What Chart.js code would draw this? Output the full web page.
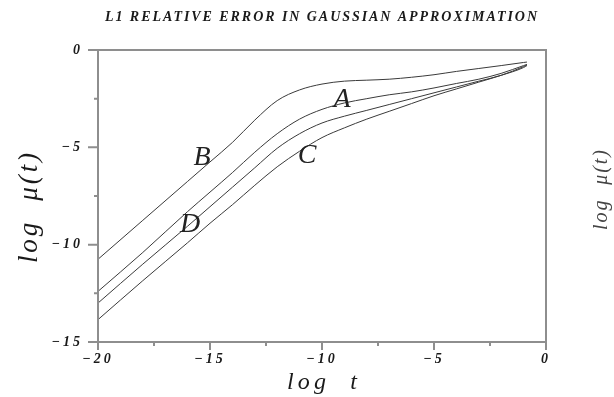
<!DOCTYPE html>
<html>
<head>
<meta charset="utf-8">
<script src="https://cdn.jsdelivr.net/npm/chart.js@4.4.1/dist/chart.umd.min.js"></script>
<style>
  html, body { margin: 0; padding: 0; background: #fff; }
</style>
</head>
<body>
<canvas id="errChart" width="614" height="397"></canvas>
<script>
// log t sample points and log mu(t) for each curve
const logT   = [-20, -18, -16, -15, -14, -13, -12, -11, -10, -9, -8, -7, -6, -5, -4, -3, -2, -1, -0.85];
const curveA = [-12.4, -10.4, -8.3, -7.3, -6.3, -5.25, -4.3, -3.55, -3.05, -2.72, -2.5, -2.3, -2.15, -1.95, -1.72, -1.5, -1.2, -0.8, -0.74];
const curveB = [-10.75, -8.75, -6.75, -5.75, -4.75, -3.6, -2.6, -2.05, -1.75, -1.6, -1.55, -1.5, -1.4, -1.27, -1.1, -0.95, -0.8, -0.64, -0.62];
const curveC = [-13.85, -11.85, -9.9, -8.9, -7.95, -6.95, -6.0, -5.2, -4.5, -4.0, -3.55, -3.15, -2.75, -2.35, -2.0, -1.65, -1.3, -0.9, -0.8];
const curveD = [-13.0, -11.0, -9.05, -8.05, -7.05, -6.05, -5.05, -4.3, -3.75, -3.4, -3.1, -2.8, -2.5, -2.2, -1.9, -1.6, -1.3, -0.85, -0.77];

// curve letters and where they sit (log t, log mu)
const curveNames = ['A', 'B', 'C', 'D'];
const labelT  = [-9.11, -15.36, -10.67, -15.89];
const labelMu = [-2.56, -5.53, -5.43, -8.96];

const titleText = 'L1 RELATIVE ERROR IN GAUSSIAN APPROXIMATION';
const xTitle = 'log  t';
const yTitle = 'log  μ(t)';

const serif = '"Liberation Serif", "DejaVu Serif", serif';

function toPoints(ys) {
  return logT.map((t, i) => ({ x: t, y: ys[i] }));
}

function curve(ys) {
  return {
    data: toPoints(ys),
    borderColor: '#3a3a3a',
    borderWidth: 1,
    pointRadius: 0,
    cubicInterpolationMode: 'monotone',
    fill: false
  };
}

// text spread out to a given width (old plotter lettering is wide)
function spacedText(ctx, text, cx, cy, width, font, angle) {
  ctx.save();
  ctx.font = font;
  ctx.letterSpacing = '0px';
  const w = ctx.measureText(text).width;
  const ls = Math.max(0, (width - w) / (text.length - 1));
  ctx.letterSpacing = ls + 'px';
  ctx.translate(cx, cy);
  ctx.rotate(angle || 0);
  ctx.textAlign = 'left';
  ctx.textBaseline = 'middle';
  ctx.fillText(text, -width / 2, 0);
  ctx.restore();
}

const plotFrame = {
  id: 'plotFrame',
  beforeDraw(chart) {
    chart.ctx.letterSpacing = '3px';
  },
  afterDraw(chart) {
    const { ctx, chartArea: a, scales: { x, y } } = chart;
    ctx.save();
    ctx.letterSpacing = '0px';

    // box round the plot
    ctx.strokeStyle = '#8e8e8e';
    ctx.lineWidth = 2;
    ctx.strokeRect(a.left, a.top, a.right - a.left, a.bottom - a.top);

    // major / minor ticks
    ctx.beginPath();
    y.ticks.forEach(t => {
      const p = y.getPixelForValue(t.value);
      const len = t.value % 5 === 0 ? 10 : 4;
      ctx.moveTo(a.left - len, p);
      ctx.lineTo(a.left, p);
    });
    x.ticks.forEach(t => {
      const p = x.getPixelForValue(t.value);
      const len = t.value % 5 === 0 ? 8 : 4;
      ctx.moveTo(p, a.bottom);
      ctx.lineTo(p, a.bottom + len);
    });
    ctx.stroke();

    ctx.fillStyle = '#1a1a1a';
    spacedText(ctx, titleText, 321, 17, 432, 'italic bold 14px ' + serif);
    spacedText(ctx, xTitle, 322, 383, 70, 'italic 24px ' + serif);
    spacedText(ctx, yTitle, 30, 208, 110, 'italic 27px ' + serif, -Math.PI / 2);
    ctx.fillStyle = '#444';
    spacedText(ctx, yTitle, 602, 190, 80, 'italic 20px ' + serif, -Math.PI / 2);

    // curve letters
    ctx.fillStyle = '#222';
    ctx.font = 'italic 28px ' + serif;
    ctx.textAlign = 'center';
    ctx.textBaseline = 'middle';
    curveNames.forEach((n, i) => {
      ctx.fillText(n, x.getPixelForValue(labelT[i]), y.getPixelForValue(labelMu[i]));
    });
    ctx.restore();
  }
};

const tickFont = { family: serif, style: 'italic', weight: 'bold', size: 14 };

new Chart(document.getElementById('errChart'), {
  type: 'line',
  data: {
    datasets: [curve(curveB), curve(curveA), curve(curveD), curve(curveC)]
  },
  options: {
    responsive: false,
    devicePixelRatio: 1,
    animation: false,
    events: [],
    layout: { padding: { left: 0, right: 68, top: 50, bottom: 0 } },
    plugins: {
      legend: { display: false },
      tooltip: { enabled: false }
    },
    scales: {
      x: {
        type: 'linear',
        min: -20,
        max: 0,
        grid: { display: false, drawTicks: false },
        border: { display: false },
        afterFit(scale) { scale.height = 55; },
        ticks: {
          stepSize: 2.5,
          padding: 9,
          color: '#1a1a1a',
          font: tickFont,
          maxRotation: 0,
          autoSkip: false,
          callback: v => (v % 5 === 0 ? String(v).replace('-', '−') : '')
        }
      },
      y: {
        min: -15,
        max: 0,
        grid: { display: false, drawTicks: false },
        border: { display: false },
        afterFit(scale) { scale.width = 98; },
        ticks: {
          stepSize: 2.5,
          padding: 15,
          color: '#1a1a1a',
          font: tickFont,
          autoSkip: false,
          callback: v => (v % 5 === 0 ? String(v).replace('-', '−') : '')
        }
      }
    }
  },
  plugins: [plotFrame]
});
</script>
</body>
</html>
